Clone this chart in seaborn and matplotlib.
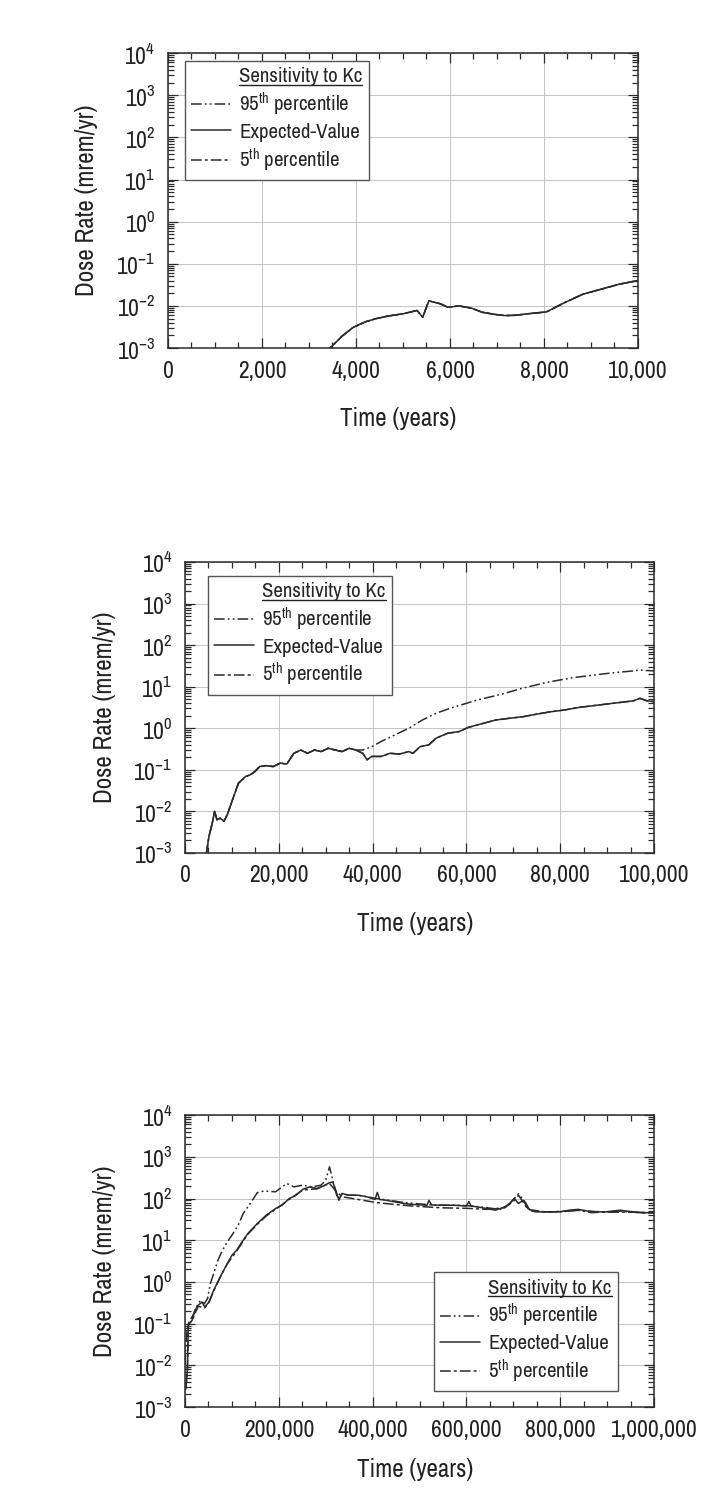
import numpy as np
import pandas as pd
import matplotlib
matplotlib.use('Agg')
import matplotlib.pyplot as plt
import matplotlib.ticker as mticker
from matplotlib import font_manager as fm
from matplotlib.lines import Line2D
import seaborn as sns

# ---- data (time in years, dose rate in mrem/yr) ----
# panel 1: 0 - 10,000 years (all three curves overlap)
t1 = [3300, 3450, 3700, 3940, 4200, 4430, 4700, 5000, 5300, 5420, 5550, 5800, 5950,
      6190, 6450, 6680, 6950, 7170, 7400, 7650, 8050, 8440, 8830, 9220, 9610, 10000]
ev1 = [7.9e-4, 1.0e-3, 1.9e-3, 3.1e-3, 4.2e-3, 5.0e-3, 5.8e-3, 6.5e-3, 7.8e-3, 5.4e-3,
       1.32e-2, 1.12e-2, 9.3e-3, 1.0e-2, 8.9e-3, 7.1e-3, 6.3e-3, 5.9e-3, 6.0e-3, 6.5e-3,
       7.2e-3, 1.2e-2, 1.9e-2, 2.5e-2, 3.3e-2, 4.0e-2]
p95_1 = list(ev1)
p5_1 = list(ev1)

# panel 2: 0 - 100,000 years
t2 = [4500, 5100, 5800, 6300, 6800, 7500, 8300, 9000, 10000, 11400, 12900, 13900, 14900,
      15900, 17300, 18800, 20300, 21700, 23200, 24700, 26100, 27600, 29000, 30500, 32000,
      33500, 35000, 36400, 37900, 38800, 39800, 41800, 43700, 45700, 47700, 48600, 50100,
      52000, 53500, 56000, 58400, 60400, 62300, 64300, 66200, 69200, 72100, 75000, 78000,
      80900, 83900, 86800, 89700, 92700, 95600, 97000, 98500, 100000]
ev2 = [8.9e-4, 2.5e-3, 5.2e-3, 1.0e-2, 6.3e-3, 6.9e-3, 5.8e-3, 8.3e-3, 1.74e-2, 4.8e-2,
       6.9e-2, 7.6e-2, 9.1e-2, 0.12, 0.126, 0.12, 0.145, 0.138, 0.25, 0.30, 0.25, 0.30,
       0.275, 0.33, 0.30, 0.275, 0.33, 0.30, 0.25, 0.174, 0.21, 0.21, 0.25, 0.24, 0.275,
       0.25, 0.36, 0.40, 0.575, 0.76, 0.83, 1.05, 1.2, 1.38, 1.58, 1.74, 1.9, 2.19, 2.5,
       2.75, 3.16, 3.47, 3.8, 4.17, 4.57, 5.25, 4.57, 4.37]
t2_95 = t2[:28] + [37900, 39800, 41800, 44700, 47700, 50600, 53500, 56500, 59400, 62300,
                   65300, 68200, 71100, 74100, 77000, 79900, 82900, 85800, 88700, 91700,
                   94600, 97000, 98500, 100000]
p95_2 = ev2[:28] + [0.30, 0.36, 0.48, 0.69, 1.0, 1.58, 2.29, 3.02, 3.8, 4.79, 5.75, 6.92,
                    8.7, 10.5, 12.6, 14.5, 16.6, 18.2, 20.0, 21.9, 23.4, 25.1, 24.5, 24.0]
p5_2 = list(ev2)

# panel 3: 0 - 1,000,000 years
t3 = [0, 2000, 5000, 7000, 9000, 15000, 21500, 28000, 36000, 42000, 51000, 61000, 75000,
      90000, 100000, 110000, 119000, 134000, 154000, 173000, 193000, 207000, 222000, 237000,
      251000, 266000, 281000, 295000, 308000, 315000, 322000, 328000, 335000, 349000, 369000,
      388000, 405000, 410000, 415000, 428000, 447000, 467000, 486000, 516000, 520000, 526000,
      545000, 574000, 600000, 605000, 610000, 623000, 643000, 662000, 682000, 692000, 702000,
      711000, 721000, 731000, 746000, 770000, 799000, 819000, 838000, 868000, 897000, 927000,
      956000, 985000, 1000000]
ev3 = [2.5e-3, 3.0e-3, 7.6e-3, 0.1, 0.1, 0.12, 0.21, 0.275, 0.33, 0.25, 0.33, 0.63, 1.32,
       2.75, 4.37, 5.75, 8.3, 14.5, 25.1, 39.8, 57.5, 69.2, 100, 120, 166, 190, 174, 200,
       240, 250, 150, 91, 132, 120, 120, 110, 95, 140, 95, 91, 83, 76, 72, 69, 90, 70, 69,
       69, 66, 85, 66, 63, 57.5, 52.5, 63, 76, 100, 76, 91, 57.5, 47.9, 47.9, 47.9, 52.5,
       55, 47.9, 47.9, 52.5, 47.9, 45.7, 45.7]
t3_95 = [0, 2000, 4000, 7000, 17000, 26000, 33000, 41000, 48000, 54000, 61000, 70000, 80000,
         90000, 100000, 110000, 115000, 124000, 139000, 154000, 168000, 193000, 207000, 217000,
         232000, 251000, 271000, 290000, 300000, 308000, 315000, 325000, 335000, 349000,
         369000, 388000, 408000, 438000, 467000, 496000, 526000, 555000, 584000, 614000,
         643000, 672000, 692000, 711000, 726000, 736000, 770000, 799000, 838000, 868000,
         897000, 927000, 956000, 985000, 1000000]
p95_3 = [1.0e-2, 3.2e-2, 6.3e-2, 0.1, 0.16, 0.275, 0.36, 0.30, 0.40, 0.91, 1.58, 3.3, 5.75,
         9.1, 13.2, 20.0, 25.1, 43.7, 75.9, 138, 151, 145, 190, 229, 190, 209, 190, 209,
         275, 575, 275, 100, 132, 120, 120, 110, 100, 90, 80, 75, 70, 69, 69, 66, 60, 55,
         75, 130, 80, 50, 47.9, 47.9, 52.5, 45.7, 47.9, 50, 46.8, 44.7, 44.7]
t3_5 = [0, 2000, 5000, 7000, 9000, 15000, 28000, 42000, 51000, 61000, 75000, 90000, 110000,
        134000, 154000, 173000, 193000, 222000, 251000, 281000, 308000, 322000, 335000,
        369000, 408000, 447000, 486000, 545000, 604000, 643000, 682000, 702000, 711000,
        731000, 770000, 838000, 897000, 956000, 1000000]
p5_3 = [2.5e-3, 3.0e-3, 7.0e-3, 0.09, 0.1, 0.12, 0.26, 0.24, 0.32, 0.6, 1.3, 2.7, 5.5, 14,
        24, 38, 55, 95, 160, 170, 230, 150, 110, 95, 80, 72, 66, 60, 58, 55, 60, 90, 120,
        55, 47, 52, 47, 47, 45]

legend_labels = ['95$^{\\rm th}$ percentile', 'Expected-Value', '5$^{\\rm th}$ percentile']
legend_title = 'Sensitivity to Kc'
x_ticks = [[0, 2000, 4000, 6000, 8000, 10000],
           [0, 20000, 40000, 60000, 80000, 100000],
           [0, 200000, 400000, 600000, 800000, 1000000]]

sns.set_theme(style='ticks')
# a narrow grotesque, like the scanned figure
have = {f.name for f in fm.fontManager.ttflist}
narrow = next((n for n in ['Liberation Sans Narrow', 'Nimbus Sans Narrow', 'Archivo Narrow',
                           'Roboto Condensed', 'PT Sans Narrow', 'Liberation Sans']
               if n in have), 'DejaVu Sans')
plt.rcParams['font.family'] = [narrow, 'DejaVu Sans']
plt.rcParams['mathtext.fontset'] = 'custom'
plt.rcParams['mathtext.rm'] = narrow
plt.rcParams['mathtext.default'] = 'regular'

ink = '#2b2b2b'
dash_map = {'95th': (7, 2, 1.2, 2, 1.2, 2), 'ev': '', '5th': (7, 2, 2, 2)}


def frame(t, v, name):
    return pd.DataFrame({'time': t, 'dose': v, 'series': name})


panels = [
    (t1, p95_1, t1, ev1, t1, p5_1),
    (t2_95, p95_2, t2, ev2, t2, p5_2),
    (t3_95, p95_3, t3, ev3, t3_5, p5_3),
]
# axes rectangles [left, bottom, width, height] in figure fractions
rects = [[0.2333, 0.7675, 0.6528, 0.197],
         [0.2570, 0.4302, 0.6514, 0.1944],
         [0.2570, 0.0601, 0.6514, 0.1950]]
leg_pos = [('upper left', (0.036, 0.973)),
           ('upper left', (0.049, 0.952)),
           ('lower left', (0.531, 0.055))]
xlab_y = [-0.20, -0.203, -0.175]

fig = plt.figure(figsize=(7.2, 14.97), dpi=100)
legends = []
for i, (ta, pa, tb, eb, tc, pc) in enumerate(panels):
    ax = fig.add_axes(rects[i])
    df = pd.concat([frame(ta, pa, '95th'), frame(tc, pc, '5th'), frame(tb, eb, 'ev')])
    sns.lineplot(data=df, x='time', y='dose', hue='series', style='series',
                 palette={'95th': ink, 'ev': ink, '5th': ink}, dashes=dash_map,
                 estimator=None, sort=False, linewidth=1.1, legend=False, ax=ax)
    ax.set_yscale('log')
    ax.set_ylim(1e-3, 1e4)
    ax.set_xlim(x_ticks[i][0], x_ticks[i][-1])
    ax.set_xticks(x_ticks[i])
    ax.xaxis.set_minor_locator(mticker.MultipleLocator(x_ticks[i][1] / 4))
    ax.xaxis.set_major_formatter(mticker.FuncFormatter(lambda v, p: f'{v:,.0f}'))
    ax.yaxis.set_major_locator(mticker.LogLocator(base=10, numticks=12))
    ax.yaxis.set_minor_locator(mticker.LogLocator(base=10, subs=np.arange(2, 10), numticks=12))
    ax.yaxis.set_minor_formatter(mticker.NullFormatter())
    ax.grid(True, which='major', color='#c4c4c4', linewidth=0.7)
    ax.tick_params(which='both', direction='in', top=True, right=True, color=ink,
                   labelsize=17, width=0.9)
    ax.tick_params(which='major', length=7, pad=9)
    ax.tick_params(which='minor', length=4)
    for s in ax.spines.values():
        s.set_color(ink)
        s.set_linewidth(1.1)
    ax.set_xlabel('Time (years)', fontsize=18, color='#222222')
    ax.set_ylabel('Dose Rate (mrem/yr)', fontsize=18, color='#222222')
    ax.xaxis.set_label_coords(0.49, xlab_y[i])
    ax.yaxis.set_label_coords(-0.148, 0.5)
    for lab in ax.get_xticklabels() + ax.get_yticklabels():
        lab.set_color('#222222')

    handles = [Line2D([], [], color='none'),
               Line2D([], [], color=ink, lw=1.1, dashes=dash_map['95th']),
               Line2D([], [], color=ink, lw=1.1),
               Line2D([], [], color=ink, lw=1.1, dashes=dash_map['5th'])]
    loc, anchor = leg_pos[i]
    leg = ax.legend(handles, [legend_title] + legend_labels, loc=loc, bbox_to_anchor=anchor,
                    fontsize=15, frameon=True, fancybox=False, framealpha=1,
                    edgecolor='#555555', handlelength=1.9, handletextpad=0.4,
                    labelspacing=0.22, borderpad=0.3, borderaxespad=0)
    leg.get_frame().set_linewidth(1.0)
    legends.append(leg)

# underline the legend headings
fig.canvas.draw()
renderer = fig.canvas.get_renderer()
for leg in legends:
    txt = leg.get_texts()[0]
    bb = txt.get_window_extent(renderer).transformed(fig.transFigure.inverted())
    fig.add_artist(Line2D([bb.x0, bb.x1], [bb.y0 + 0.0008, bb.y0 + 0.0008],
                          transform=fig.transFigure, color='#222222', lw=1.0))

fig.savefig('out.png', dpi=100, facecolor='white')
